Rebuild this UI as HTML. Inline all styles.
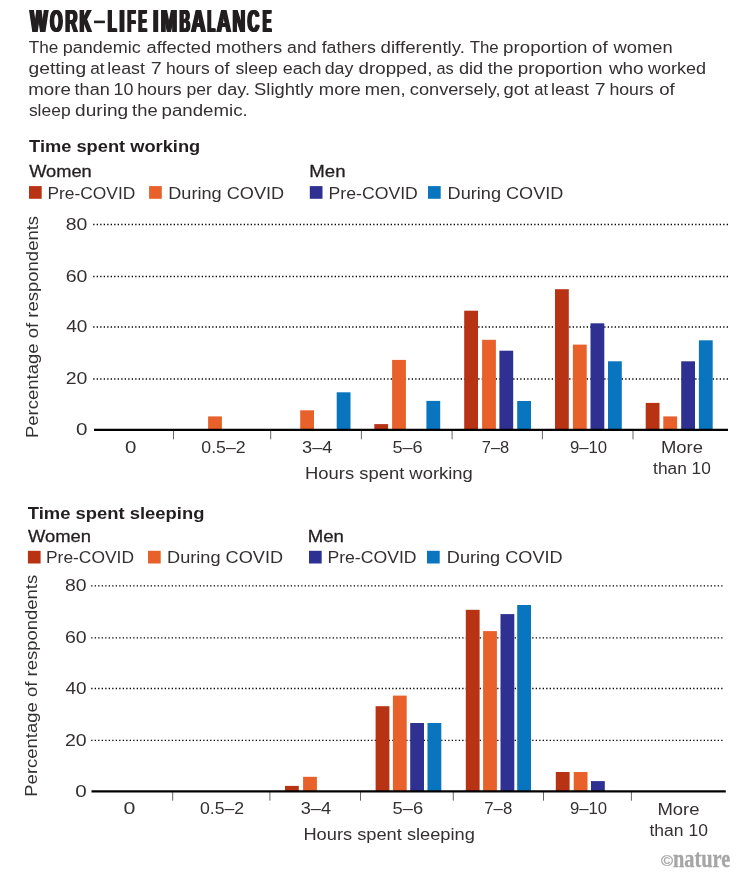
<!DOCTYPE html>
<html><head><meta charset="utf-8"><title>Work-life imbalance</title>
<style>
html,body{margin:0;padding:0;background:#fff;}
body{width:751px;height:878px;overflow:hidden;font-family:"Liberation Sans",sans-serif;}
svg{display:block;will-change:transform;}
svg text{font-family:"Liberation Sans",sans-serif;fill:#343031;}
svg text.b,svg .b text,svg text.m{fill:#231f20;}
.b{font-weight:bold;}
.m{stroke:#231f20;stroke-width:0.3;}
.grid{stroke:#000;stroke-width:1.3;stroke-dasharray:1.3 2.2;fill:none;}
.axis{stroke:#000;stroke-width:2.3;fill:none;}
.tick{stroke:#666;stroke-width:1;fill:none;}
</style></head><body>
<svg width="751" height="878" viewBox="0 0 751 878">
<rect x="0" y="0" width="751" height="878" fill="#ffffff"/>
<g id="ttl" class="b" font-size="31.0">
<text transform="translate(28.98,31.8) scale(0.5993,1)">W</text>
<text transform="translate(48.95,31.8) scale(0.5152,1)">O</text>
<text transform="translate(64.16,31.8) scale(0.5495,1)">R</text>
<text transform="translate(78.52,31.8) scale(0.5201,1)">K</text>
<text transform="translate(106.85,31.8) scale(0.4590,1)">L</text>
<text transform="translate(118.24,31.8) scale(0.6048,1)">I</text>
<text transform="translate(126.41,31.8) scale(0.4263,1)">F</text>
<text transform="translate(137.49,31.8) scale(0.3910,1)">E</text>
<text transform="translate(152.04,31.8) scale(0.6048,1)">I</text>
<text transform="translate(159.70,31.8) scale(0.6276,1)">M</text>
<text transform="translate(178.53,31.8) scale(0.4654,1)">B</text>
<text transform="translate(190.21,31.8) scale(0.6298,1)">A</text>
<text transform="translate(206.49,31.8) scale(0.3899,1)">L</text>
<text transform="translate(215.72,31.8) scale(0.6202,1)">A</text>
<text transform="translate(231.41,31.8) scale(0.5706,1)">N</text>
<text transform="translate(246.54,31.8) scale(0.5179,1)">C</text>
<text transform="translate(261.75,31.8) scale(0.4083,1)">E</text>
</g>
<use href="#ttl" x="0.55" y="0"/>
<use href="#ttl" x="1.10" y="0"/>
<use href="#ttl" x="1.65" y="0"/>
<use href="#ttl" x="2.20" y="0"/>
<rect x="94" y="20.6" width="10.9" height="2.6" fill="#231f20"/>
<text x="28.7" y="53.3" font-size="17.3" textLength="29.6" lengthAdjust="spacingAndGlyphs">The</text>
<text x="62.7" y="53.3" font-size="17.3" textLength="78.1" lengthAdjust="spacingAndGlyphs">pandemic</text>
<text x="146.5" y="53.3" font-size="17.3" textLength="64.6" lengthAdjust="spacingAndGlyphs">affected</text>
<text x="215.7" y="53.3" font-size="17.3" textLength="66.4" lengthAdjust="spacingAndGlyphs">mothers</text>
<text x="287.1" y="53.3" font-size="17.3" textLength="29.5" lengthAdjust="spacingAndGlyphs">and</text>
<text x="321.7" y="53.3" font-size="17.3" textLength="54.2" lengthAdjust="spacingAndGlyphs">fathers</text>
<text x="380.6" y="53.3" font-size="17.3" textLength="84.3" lengthAdjust="spacingAndGlyphs">differently.</text>
<text x="469.7" y="53.3" font-size="17.3" textLength="29.0" lengthAdjust="spacingAndGlyphs">The</text>
<text x="503.1" y="53.3" font-size="17.3" textLength="84.4" lengthAdjust="spacingAndGlyphs">proportion</text>
<text x="592.1" y="53.3" font-size="17.3" textLength="15.6" lengthAdjust="spacingAndGlyphs">of</text>
<text x="613.6" y="53.3" font-size="17.3" textLength="59.1" lengthAdjust="spacingAndGlyphs">women</text>
<text x="28.6" y="74.3" font-size="17.3" textLength="57.6" lengthAdjust="spacingAndGlyphs">getting</text>
<text x="90.2" y="74.3" font-size="17.3" textLength="14.4" lengthAdjust="spacingAndGlyphs">at</text>
<text x="107.3" y="74.3" font-size="17.3" textLength="37.6" lengthAdjust="spacingAndGlyphs">least</text>
<text x="150.8" y="74.3" font-size="17.3" textLength="11.0" lengthAdjust="spacingAndGlyphs">7</text>
<text x="166.0" y="74.3" font-size="17.3" textLength="43.6" lengthAdjust="spacingAndGlyphs">hours</text>
<text x="214.2" y="74.3" font-size="17.3" textLength="15.3" lengthAdjust="spacingAndGlyphs">of</text>
<text x="235.4" y="74.3" font-size="17.3" textLength="42.2" lengthAdjust="spacingAndGlyphs">sleep</text>
<text x="282.7" y="74.3" font-size="17.3" textLength="38.8" lengthAdjust="spacingAndGlyphs">each</text>
<text x="324.7" y="74.3" font-size="17.3" textLength="28.7" lengthAdjust="spacingAndGlyphs">day</text>
<text x="358.6" y="74.3" font-size="17.3" textLength="73.9" lengthAdjust="spacingAndGlyphs">dropped,</text>
<text x="436.5" y="74.3" font-size="17.3" textLength="17.2" lengthAdjust="spacingAndGlyphs">as</text>
<text x="458.9" y="74.3" font-size="17.3" textLength="24.3" lengthAdjust="spacingAndGlyphs">did</text>
<text x="487.7" y="74.3" font-size="17.3" textLength="25.4" lengthAdjust="spacingAndGlyphs">the</text>
<text x="517.7" y="74.3" font-size="17.3" textLength="84.8" lengthAdjust="spacingAndGlyphs">proportion</text>
<text x="609.0" y="74.3" font-size="17.3" textLength="34.6" lengthAdjust="spacingAndGlyphs">who</text>
<text x="647.9" y="74.3" font-size="17.3" textLength="58.1" lengthAdjust="spacingAndGlyphs">worked</text>
<text x="28.2" y="95.3" font-size="17.3" textLength="42.6" lengthAdjust="spacingAndGlyphs">more</text>
<text x="74.6" y="95.3" font-size="17.3" textLength="35.1" lengthAdjust="spacingAndGlyphs">than</text>
<text x="113.6" y="95.3" font-size="17.3" textLength="19.9" lengthAdjust="spacingAndGlyphs">10</text>
<text x="137.2" y="95.3" font-size="17.3" textLength="44.5" lengthAdjust="spacingAndGlyphs">hours</text>
<text x="186.5" y="95.3" font-size="17.3" textLength="25.4" lengthAdjust="spacingAndGlyphs">per</text>
<text x="217.2" y="95.3" font-size="17.3" textLength="32.8" lengthAdjust="spacingAndGlyphs">day.</text>
<text x="254.1" y="95.3" font-size="17.3" textLength="59.3" lengthAdjust="spacingAndGlyphs">Slightly</text>
<text x="318.8" y="95.3" font-size="17.3" textLength="42.0" lengthAdjust="spacingAndGlyphs">more</text>
<text x="364.7" y="95.3" font-size="17.3" textLength="40.8" lengthAdjust="spacingAndGlyphs">men,</text>
<text x="409.8" y="95.3" font-size="17.3" textLength="90.7" lengthAdjust="spacingAndGlyphs">conversely,</text>
<text x="503.6" y="95.3" font-size="17.3" textLength="25.5" lengthAdjust="spacingAndGlyphs">got</text>
<text x="534.2" y="95.3" font-size="17.3" textLength="13.8" lengthAdjust="spacingAndGlyphs">at</text>
<text x="551.1" y="95.3" font-size="17.3" textLength="37.8" lengthAdjust="spacingAndGlyphs">least</text>
<text x="594.8" y="95.3" font-size="17.3" textLength="10.8" lengthAdjust="spacingAndGlyphs">7</text>
<text x="609.4" y="95.3" font-size="17.3" textLength="44.3" lengthAdjust="spacingAndGlyphs">hours</text>
<text x="659.2" y="95.3" font-size="17.3" textLength="15.5" lengthAdjust="spacingAndGlyphs">of</text>
<text x="28.9" y="116.4" font-size="17.3" textLength="41.7" lengthAdjust="spacingAndGlyphs">sleep</text>
<text x="75.1" y="116.4" font-size="17.3" textLength="53.0" lengthAdjust="spacingAndGlyphs">during</text>
<text x="132.1" y="116.4" font-size="17.3" textLength="25.5" lengthAdjust="spacingAndGlyphs">the</text>
<text x="161.6" y="116.4" font-size="17.3" textLength="86.1" lengthAdjust="spacingAndGlyphs">pandemic.</text>
<!-- Time spent working -->
<text x="29.1" y="151.6" font-size="17.3" class="b" textLength="171.1" lengthAdjust="spacingAndGlyphs">Time spent working</text>
<text x="29.2" y="176.9" font-size="17.3" class="m" textLength="62.6" lengthAdjust="spacingAndGlyphs">Women</text>
<text x="309.3" y="176.9" font-size="17.3" class="m" textLength="36.2" lengthAdjust="spacingAndGlyphs">Men</text>
<rect x="29.0" y="186.1" width="12.7" height="12.7" fill="#b83214"/>
<rect x="149.1" y="186.1" width="12.7" height="12.7" fill="#e8602a"/>
<rect x="309.8" y="186.1" width="12.7" height="12.7" fill="#2e3192"/>
<rect x="428.0" y="186.1" width="12.7" height="12.7" fill="#0975be"/>
<text x="47.4" y="198.8" font-size="17.3" textLength="87.9" lengthAdjust="spacingAndGlyphs">Pre-COVID</text>
<text x="168.2" y="198.8" font-size="17.3" textLength="116.0" lengthAdjust="spacingAndGlyphs">During COVID</text>
<text x="328.6" y="198.8" font-size="17.3" textLength="89.2" lengthAdjust="spacingAndGlyphs">Pre-COVID</text>
<text x="447.6" y="198.8" font-size="17.3" textLength="115.8" lengthAdjust="spacingAndGlyphs">During COVID</text>
<line class="grid" x1="93.2" y1="379.0" x2="728.0" y2="379.0"/>
<line class="grid" x1="93.2" y1="327.0" x2="728.0" y2="327.0"/>
<line class="grid" x1="93.2" y1="276.5" x2="728.0" y2="276.5"/>
<line class="grid" x1="93.2" y1="224.5" x2="728.0" y2="224.5"/>
<rect x="208.1" y="416.4" width="13.8" height="13.5" fill="#e8602a"/>
<rect x="300.2" y="410.3" width="13.8" height="19.6" fill="#e8602a"/>
<rect x="336.7" y="392.3" width="13.8" height="37.6" fill="#0975be"/>
<rect x="374.3" y="424.1" width="13.8" height="5.8" fill="#b83214"/>
<rect x="392.1" y="359.9" width="13.8" height="70.0" fill="#e8602a"/>
<rect x="426.4" y="400.9" width="13.8" height="29.0" fill="#0975be"/>
<rect x="464.2" y="310.7" width="13.8" height="119.2" fill="#b83214"/>
<rect x="482.1" y="339.8" width="13.8" height="90.1" fill="#e8602a"/>
<rect x="499.4" y="350.7" width="13.8" height="79.2" fill="#2e3192"/>
<rect x="517.2" y="401.0" width="13.8" height="28.9" fill="#0975be"/>
<rect x="555.0" y="289.2" width="13.8" height="140.7" fill="#b83214"/>
<rect x="572.9" y="344.6" width="13.8" height="85.3" fill="#e8602a"/>
<rect x="590.5" y="323.3" width="13.8" height="106.6" fill="#2e3192"/>
<rect x="608.0" y="361.3" width="13.8" height="68.6" fill="#0975be"/>
<rect x="645.7" y="402.9" width="13.8" height="27.0" fill="#b83214"/>
<rect x="663.3" y="416.4" width="13.8" height="13.5" fill="#e8602a"/>
<rect x="681.2" y="361.3" width="13.8" height="68.6" fill="#2e3192"/>
<rect x="698.9" y="340.3" width="13.8" height="89.6" fill="#0975be"/>
<line class="tick" x1="173.5" y1="429.9" x2="173.5" y2="439.3"/>
<line class="tick" x1="270.7" y1="429.9" x2="270.7" y2="439.3"/>
<line class="tick" x1="361.4" y1="429.9" x2="361.4" y2="439.3"/>
<line class="tick" x1="452.1" y1="429.9" x2="452.1" y2="439.3"/>
<line class="tick" x1="542.4" y1="429.9" x2="542.4" y2="439.3"/>
<line class="tick" x1="633.0" y1="429.9" x2="633.0" y2="439.3"/>
<line class="axis" x1="94.0" y1="429.9" x2="728.0" y2="429.9"/>
<text x="76.0" y="435.2" font-size="17.3" textLength="11.5" lengthAdjust="spacingAndGlyphs">0</text>
<text x="65.7" y="384.3" font-size="17.3" textLength="21.7" lengthAdjust="spacingAndGlyphs">20</text>
<text x="66.3" y="332.3" font-size="17.3" textLength="21.1" lengthAdjust="spacingAndGlyphs">40</text>
<text x="65.7" y="281.8" font-size="17.3" textLength="21.7" lengthAdjust="spacingAndGlyphs">60</text>
<text x="65.8" y="229.8" font-size="17.3" textLength="21.6" lengthAdjust="spacingAndGlyphs">80</text>
<text x="124.9" y="453.3" font-size="17.3" textLength="11.4" lengthAdjust="spacingAndGlyphs">0</text>
<text x="201.3" y="453.3" font-size="17.3" textLength="44.3" lengthAdjust="spacingAndGlyphs">0.5–2</text>
<text x="302.1" y="453.3" font-size="17.3" textLength="30.3" lengthAdjust="spacingAndGlyphs">3–4</text>
<text x="392.4" y="453.3" font-size="17.3" textLength="30.2" lengthAdjust="spacingAndGlyphs">5–6</text>
<text x="481.8" y="453.3" font-size="17.3" textLength="27.4" lengthAdjust="spacingAndGlyphs">7–8</text>
<text x="569.9" y="453.3" font-size="17.3" textLength="37.2" lengthAdjust="spacingAndGlyphs">9–10</text>
<text x="660.9" y="453.3" font-size="17.3" textLength="42.0" lengthAdjust="spacingAndGlyphs">More</text>
<text x="653.1" y="474.2" font-size="17.3" textLength="57.8" lengthAdjust="spacingAndGlyphs">than 10</text>
<text x="305.0" y="478.5" font-size="17.3" textLength="167.8" lengthAdjust="spacingAndGlyphs">Hours spent working</text>
<text transform="translate(38.2,438.0) rotate(-90)" x="0" y="0" font-size="17.3" textLength="222.1" lengthAdjust="spacingAndGlyphs">Percentage of respondents</text>
<!-- Time spent sleeping -->
<text x="27.8" y="519.0" font-size="17.3" class="b" textLength="176.6" lengthAdjust="spacingAndGlyphs">Time spent sleeping</text>
<text x="27.9" y="542.4" font-size="17.3" class="m" textLength="63.1" lengthAdjust="spacingAndGlyphs">Women</text>
<text x="307.7" y="542.4" font-size="17.3" class="m" textLength="36.2" lengthAdjust="spacingAndGlyphs">Men</text>
<rect x="27.9" y="550.8" width="12.7" height="12.7" fill="#b83214"/>
<rect x="148.0" y="550.8" width="12.7" height="12.7" fill="#e8602a"/>
<rect x="309.0" y="550.8" width="12.7" height="12.7" fill="#2e3192"/>
<rect x="427.0" y="550.8" width="12.7" height="12.7" fill="#0975be"/>
<text x="46.0" y="563.3" font-size="17.3" textLength="88.0" lengthAdjust="spacingAndGlyphs">Pre-COVID</text>
<text x="167.1" y="563.3" font-size="17.3" textLength="116.0" lengthAdjust="spacingAndGlyphs">During COVID</text>
<text x="327.4" y="563.3" font-size="17.3" textLength="89.2" lengthAdjust="spacingAndGlyphs">Pre-COVID</text>
<text x="446.8" y="563.3" font-size="17.3" textLength="115.8" lengthAdjust="spacingAndGlyphs">During COVID</text>
<line class="grid" x1="91.2" y1="740.4" x2="724.2" y2="740.4"/>
<line class="grid" x1="91.2" y1="688.5" x2="724.2" y2="688.5"/>
<line class="grid" x1="91.2" y1="637.8" x2="724.2" y2="637.8"/>
<line class="grid" x1="91.2" y1="585.9" x2="724.2" y2="585.9"/>
<rect x="285.0" y="785.9" width="13.8" height="5.4" fill="#b83214"/>
<rect x="303.1" y="776.8" width="13.8" height="14.5" fill="#e8602a"/>
<rect x="375.6" y="706.2" width="13.8" height="85.1" fill="#b83214"/>
<rect x="392.9" y="695.6" width="13.8" height="95.7" fill="#e8602a"/>
<rect x="410.2" y="723.0" width="13.8" height="68.3" fill="#2e3192"/>
<rect x="427.5" y="723.0" width="13.8" height="68.3" fill="#0975be"/>
<rect x="465.8" y="609.8" width="13.8" height="181.5" fill="#b83214"/>
<rect x="483.1" y="631.1" width="13.8" height="160.2" fill="#e8602a"/>
<rect x="500.5" y="614.1" width="13.8" height="177.2" fill="#2e3192"/>
<rect x="517.2" y="605.0" width="13.8" height="186.3" fill="#0975be"/>
<rect x="555.8" y="772.0" width="13.8" height="19.3" fill="#b83214"/>
<rect x="573.7" y="772.0" width="13.8" height="19.3" fill="#e8602a"/>
<rect x="591.0" y="781.1" width="13.8" height="10.2" fill="#2e3192"/>
<line class="tick" x1="172.7" y1="791.3" x2="172.7" y2="800.7"/>
<line class="tick" x1="269.9" y1="791.3" x2="269.9" y2="800.7"/>
<line class="tick" x1="360.5" y1="791.3" x2="360.5" y2="800.7"/>
<line class="tick" x1="453.3" y1="791.3" x2="453.3" y2="800.7"/>
<line class="tick" x1="543.5" y1="791.3" x2="543.5" y2="800.7"/>
<line class="tick" x1="631.4" y1="791.3" x2="631.4" y2="800.7"/>
<line class="axis" x1="91.5" y1="791.3" x2="725.8" y2="791.3"/>
<text x="75.2" y="796.6" font-size="17.3" textLength="11.5" lengthAdjust="spacingAndGlyphs">0</text>
<text x="64.9" y="745.7" font-size="17.3" textLength="21.7" lengthAdjust="spacingAndGlyphs">20</text>
<text x="65.5" y="693.8" font-size="17.3" textLength="21.1" lengthAdjust="spacingAndGlyphs">40</text>
<text x="64.9" y="643.1" font-size="17.3" textLength="21.7" lengthAdjust="spacingAndGlyphs">60</text>
<text x="65.0" y="591.2" font-size="17.3" textLength="21.6" lengthAdjust="spacingAndGlyphs">80</text>
<text x="123.5" y="814.3" font-size="17.3" textLength="11.9" lengthAdjust="spacingAndGlyphs">0</text>
<text x="200.0" y="814.3" font-size="17.3" textLength="44.2" lengthAdjust="spacingAndGlyphs">0.5–2</text>
<text x="300.7" y="814.3" font-size="17.3" textLength="30.3" lengthAdjust="spacingAndGlyphs">3–4</text>
<text x="392.6" y="814.3" font-size="17.3" textLength="30.6" lengthAdjust="spacingAndGlyphs">5–6</text>
<text x="484.3" y="814.3" font-size="17.3" textLength="27.9" lengthAdjust="spacingAndGlyphs">7–8</text>
<text x="569.9" y="814.3" font-size="17.3" textLength="37.2" lengthAdjust="spacingAndGlyphs">9–10</text>
<text x="657.4" y="814.9" font-size="17.3" textLength="42.1" lengthAdjust="spacingAndGlyphs">More</text>
<text x="649.5" y="835.5" font-size="17.3" textLength="58.4" lengthAdjust="spacingAndGlyphs">than 10</text>
<text x="303.4" y="839.8" font-size="17.3" textLength="171.5" lengthAdjust="spacingAndGlyphs">Hours spent sleeping</text>
<text transform="translate(37.3,796.7) rotate(-90)" x="0" y="0" font-size="17.3" textLength="221.9" lengthAdjust="spacingAndGlyphs">Percentage of respondents</text>
<text x="661.0" y="866.0" font-size="15" style="fill:#a6a6a6;stroke:#a6a6a6;stroke-width:0.35" textLength="12" lengthAdjust="spacingAndGlyphs">©</text>
<text x="673.0" y="866.6" font-size="24.5" style="font-family:'Liberation Serif',serif;font-weight:bold;fill:#a6a6a6;stroke:#a6a6a6;stroke-width:0.3" textLength="57.3" lengthAdjust="spacingAndGlyphs">nature</text>
</svg>
</body></html>
